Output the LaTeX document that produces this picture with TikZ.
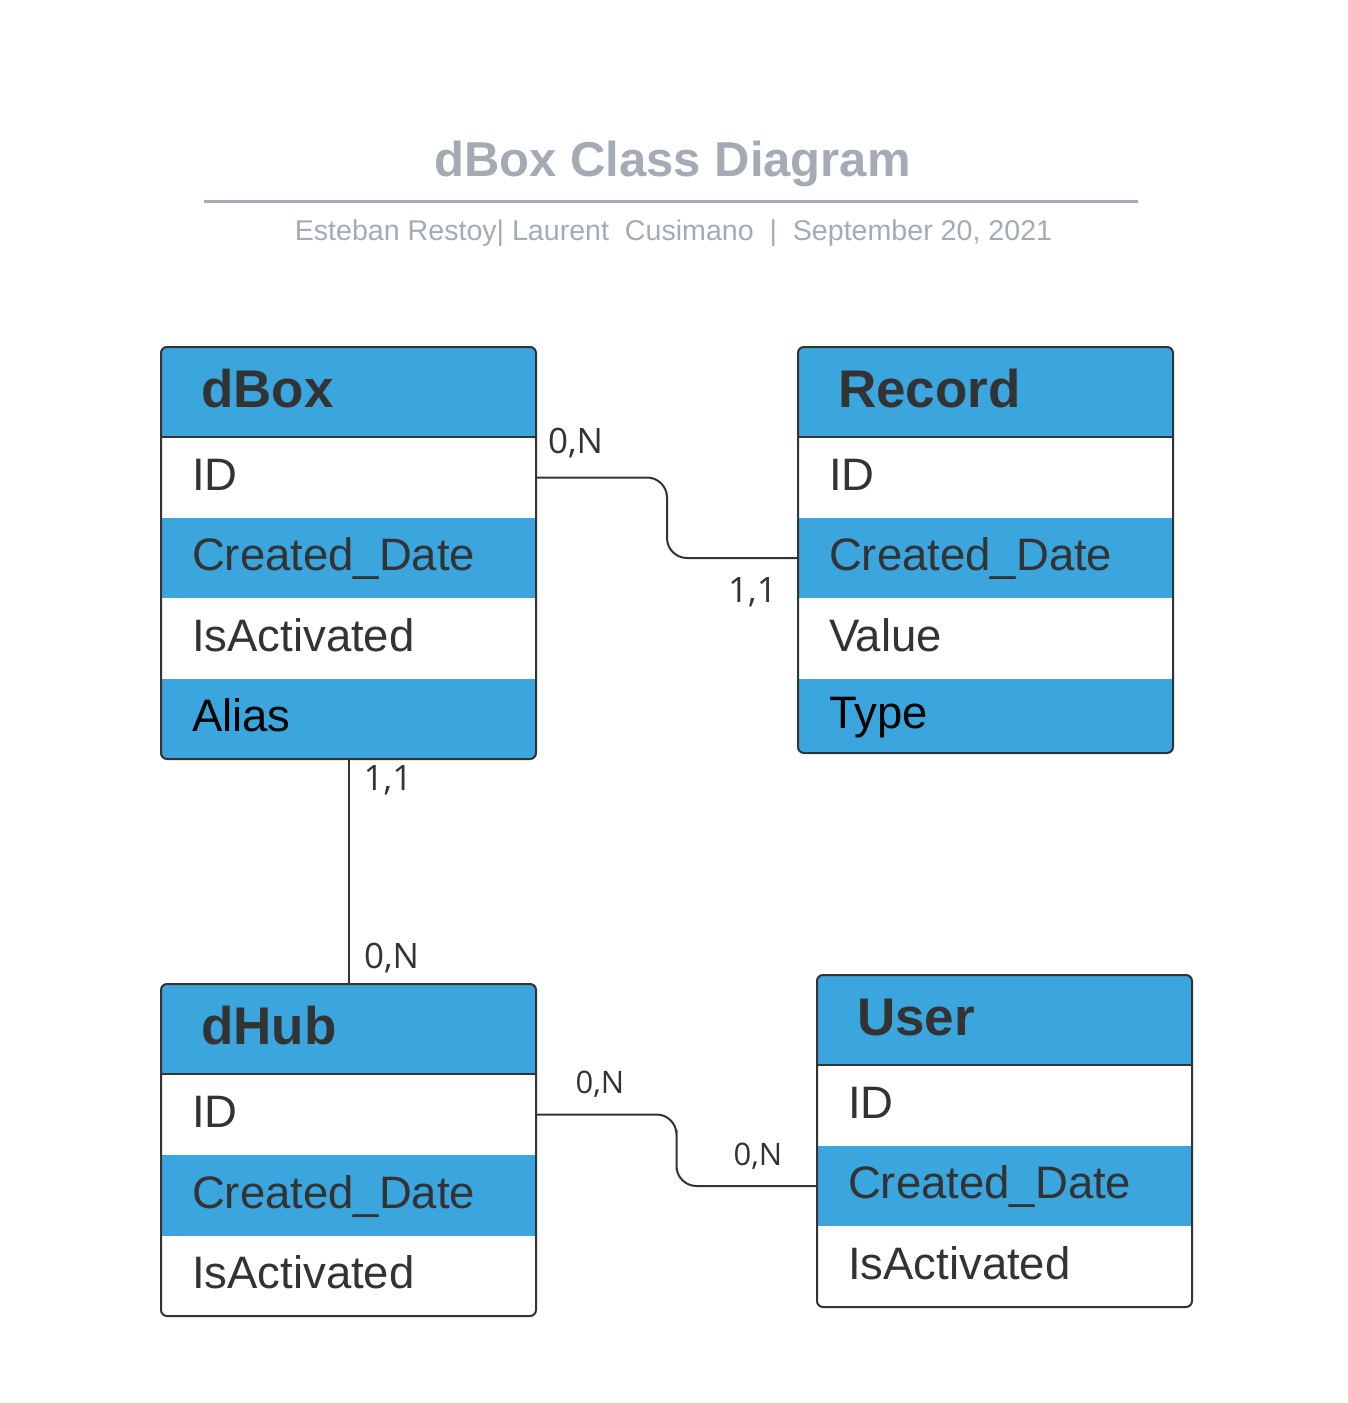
\documentclass[tikz,border=0pt]{standalone}
\usepackage{fontspec}
\setmainfont{Liberation Sans}
\newfontfamily\cardfont{Open Sans}
\usetikzlibrary{calc}
\definecolor{boxblue}{HTML}{3BA5DD}
\definecolor{ink}{HTML}{333333}
\definecolor{titlegrey}{HTML}{A5ABB5}
\tikzset{
  hdr/.style={anchor=north west, minimum width=187.5pt, minimum height=45pt,
    inner xsep=20pt, inner ysep=0pt, outer sep=0pt, text width=147.5pt, align=left,
    text height=20pt, text depth=5pt, fill=boxblue,
    font=\fontsize{26.5}{30}\selectfont\bfseries, text=ink},
  fieldrow/.style={anchor=north west, minimum width=187.5pt, minimum height=#1,
    inner xsep=15.5pt, inner ysep=0pt, outer sep=0pt, text width=156.5pt, align=left,
    text height=17pt, text depth=4.5pt,
    font=\fontsize{22.75}{26}\selectfont, text=ink},
  whiterow/.style={fieldrow=#1, fill=white},
  bluerow/.style={fieldrow=#1, fill=boxblue},
  frame/.style={draw=ink, line width=1pt, rounded corners=3pt},
  sepline/.style={draw=ink, line width=1pt},
  conn/.style={draw=ink, line width=1pt, rounded corners=10pt},
  cardbig/.style={anchor=base, inner sep=0pt, text=ink, font=\cardfont\fontsize{17.5}{20}\selectfont},
  cardsmall/.style={anchor=base, inner sep=0pt, text=ink, font=\cardfont\fontsize{15.5}{18}\selectfont},
}
\begin{document}
\begin{tikzpicture}[x=0.5pt,y=-0.5pt]
\useasboundingbox (0,0) rectangle (1348,1403);

% title block
\node[anchor=base, inner sep=0pt, text=titlegrey, font=\fontsize{24.5}{28}\selectfont\bfseries] (title) at (672.5,176) {dBox Class Diagram};
\draw[draw=titlegrey, line width=1.5pt] (204,201) -- (1138,201);
\node[anchor=base, inner sep=0pt, text=titlegrey, font=\fontsize{14.3}{17}\selectfont] (subtitle) at (673.5,240) {Esteban Restoy| Laurent\ \ Cusimano\ \ |\ \ September 20, 2021};

% dBox
\begin{scope}
  \clip[rounded corners=3pt] (161,347) rectangle (536,759);
  \node[hdr] (dbox-head) at (161,347) {dBox};
  \node[whiterow=40.5pt] (dbox-id) at (dbox-head.south west) {ID};
  \node[bluerow=40pt] (dbox-cd) at (dbox-id.south west) {Created\_Date};
  \node[whiterow=40.5pt] (dbox-act) at (dbox-cd.south west) {IsActivated};
  \node[bluerow=40pt, text=black] (dbox-alias) at (dbox-act.south west) {Alias};
\end{scope}
\draw[frame] (dbox-head.north west) rectangle (dbox-alias.south east);
\draw[sepline] (dbox-head.south west) -- (dbox-head.south east);

% Record
\begin{scope}
  \clip[rounded corners=3pt] (798,347) rectangle (1173,753);
  \node[hdr] (record-head) at (798,347) {Record};
  \node[whiterow=40.5pt] (record-id) at (record-head.south west) {ID};
  \node[bluerow=40pt] (record-cd) at (record-id.south west) {Created\_Date};
  \node[whiterow=40.5pt] (record-val) at (record-cd.south west) {Value};
  \node[bluerow=37pt, text=black] (record-type) at (record-val.south west) {Type};
\end{scope}
\draw[frame] (record-head.north west) rectangle (record-type.south east);
\draw[sepline] (record-head.south west) -- (record-head.south east);

% dHub
\begin{scope}
  \clip[rounded corners=3pt] (161,984) rectangle (536,1316);
  \node[hdr] (dhub-head) at (161,984) {dHub};
  \node[whiterow=40.5pt] (dhub-id) at (dhub-head.south west) {ID};
  \node[bluerow=40.5pt] (dhub-cd) at (dhub-id.south west) {Created\_Date};
  \node[whiterow=40pt] (dhub-act) at (dhub-cd.south west) {IsActivated};
\end{scope}
\draw[frame] (dhub-head.north west) rectangle (dhub-act.south east);
\draw[sepline] (dhub-head.south west) -- (dhub-head.south east);

% User
\begin{scope}
  \clip[rounded corners=3pt] (817,975) rectangle (1192,1307);
  \node[hdr] (user-head) at (817,975) {User};
  \node[whiterow=40.5pt] (user-id) at (user-head.south west) {ID};
  \node[bluerow=40pt] (user-cd) at (user-id.south west) {Created\_Date};
  \node[whiterow=40.5pt] (user-act) at (user-cd.south west) {IsActivated};
\end{scope}
\draw[frame] (user-head.north west) rectangle (user-act.south east);
\draw[sepline] (user-head.south west) -- (user-head.south east);

% connectors
\draw[conn] (dbox-id.east) -| ($(dbox-id.east)!0.5!(record-cd.west)$) |- (record-cd.west);
\draw[conn] (dbox-alias.south) -- (dhub-head.north);
\draw[conn] (dhub-id.east) -| ($(dhub-id.east)!0.5!(user-cd.west)$) |- (user-cd.west);

% cardinalities
\node[cardbig] (c1) at (575.5,453) {0,N};
\node[cardbig] (c2) at (752.5,602) {1,1};
\node[cardbig] (c3) at (388,790) {1,1};
\node[cardbig] (c4) at (391.5,968) {0,N};
\node[cardsmall] (c5) at (600,1093) {0,N};
\node[cardsmall] (c6) at (758,1165) {0,N};
\end{tikzpicture}
\end{document}
